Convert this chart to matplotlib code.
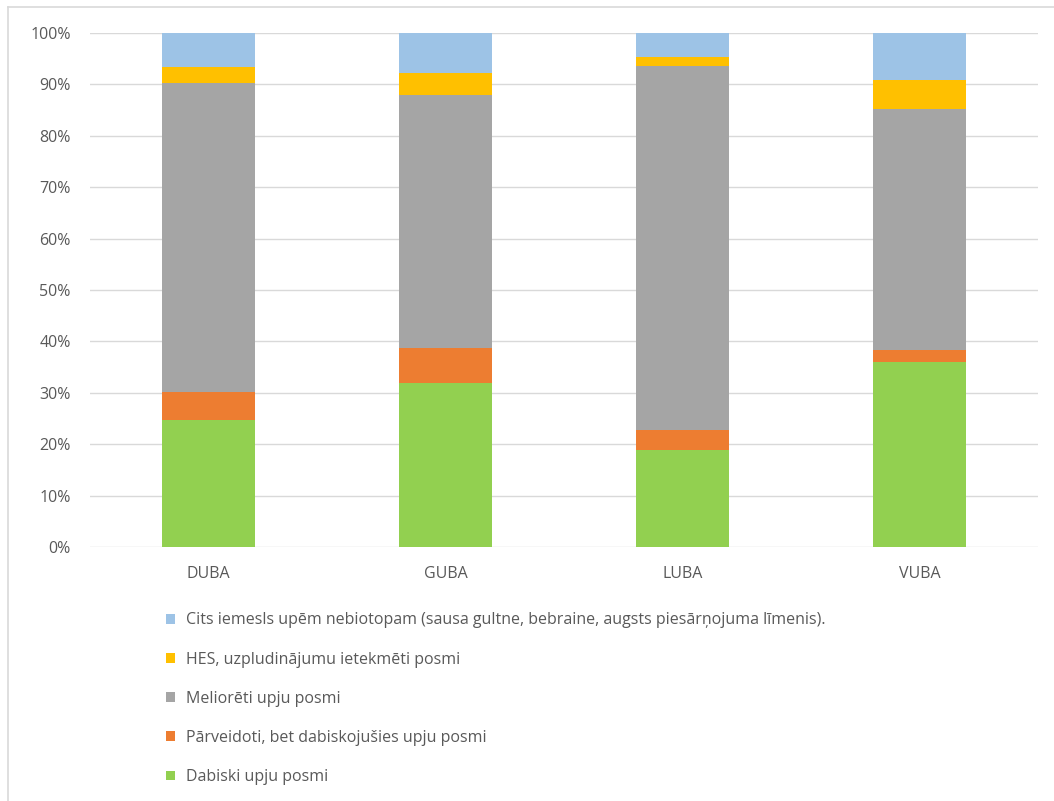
import numpy as np
import matplotlib
matplotlib.use('Agg')
import matplotlib.pyplot as plt
from matplotlib.patches import Patch
from matplotlib.lines import Line2D

plt.rcParams['font.family'] = ['Open Sans', 'DejaVu Sans']

# kategorijas un dati (%)
kategorijas = ['DUBA', 'GUBA', 'LUBA', 'VUBA']
dabiski = [24.8, 32.0, 18.8, 36.0]
parveidoti = [5.4, 6.8, 4.0, 2.4]
melioreti = [60.1, 49.1, 70.8, 46.8]
hes = [3.0, 4.4, 1.7, 5.7]
cits = [6.7, 7.7, 4.7, 9.1]

nosaukumi = ['Dabiski upju posmi',
             'Pārveidoti, bet dabiskojušies upju posmi',
             'Meliorēti upju posmi',
             'HES, uzpludinājumu ietekmēti posmi',
             'Cits iemesls upēm nebiotopam (sausa gultne, bebraine, augsts piesārņojuma līmenis).']
krasas = ['#92d050', '#ed7d31', '#a5a5a5', '#ffc000', '#9dc3e6']

fig = plt.figure(figsize=(10.54, 8.01), dpi=100)
ax = fig.add_axes([90/1054, 1-547/801, (1038-90)/1054, (547-33)/801])

x = np.arange(len(kategorijas))
serijas = [dabiski, parveidoti, melioreti, hes, cits]
apaksa = np.zeros(len(kategorijas))
for vert, kr in zip(serijas, krasas):
    ax.bar(x, vert, 0.39, bottom=apaksa, color=kr, zorder=3)
    apaksa += np.array(vert)

ax.set_xlim(-0.5, len(kategorijas)-0.5)
ax.set_ylim(0, 100)
ax.set_yticks(np.arange(0, 101, 10))
ax.set_yticklabels([f'{v}%' for v in range(0, 101, 10)])
ax.set_xticks(x)
ax.set_xticklabels(kategorijas)
ax.grid(axis='y', color='#d9d9d9', linewidth=1, zorder=0)
for s in ax.spines.values():
    s.set_visible(False)
ax.tick_params(axis='both', length=0, colors='#595959', labelsize=11.5)
ax.tick_params(axis='y', pad=14)
ax.tick_params(axis='x', pad=13.5)

roki = [Patch(facecolor=k) for k in krasas][::-1]
fig.legend(roki, nosaukumi[::-1], loc='upper left',
           bbox_to_anchor=(152/1054, 1-598/801), frameon=False,
           fontsize=11.5, labelcolor='#595959', labelspacing=1.45,
           handlelength=0.56, handleheight=0.56, handletextpad=0.7)

# diagrammas apmale
fig.add_artist(Line2D([8/1054, 8/1054], [0, 1-7/801], color='#d9d9d9', lw=1.2))
fig.add_artist(Line2D([8/1054, 1], [1-7/801, 1-7/801], color='#d9d9d9', lw=1.2))

fig.savefig('out.png', dpi=100)
